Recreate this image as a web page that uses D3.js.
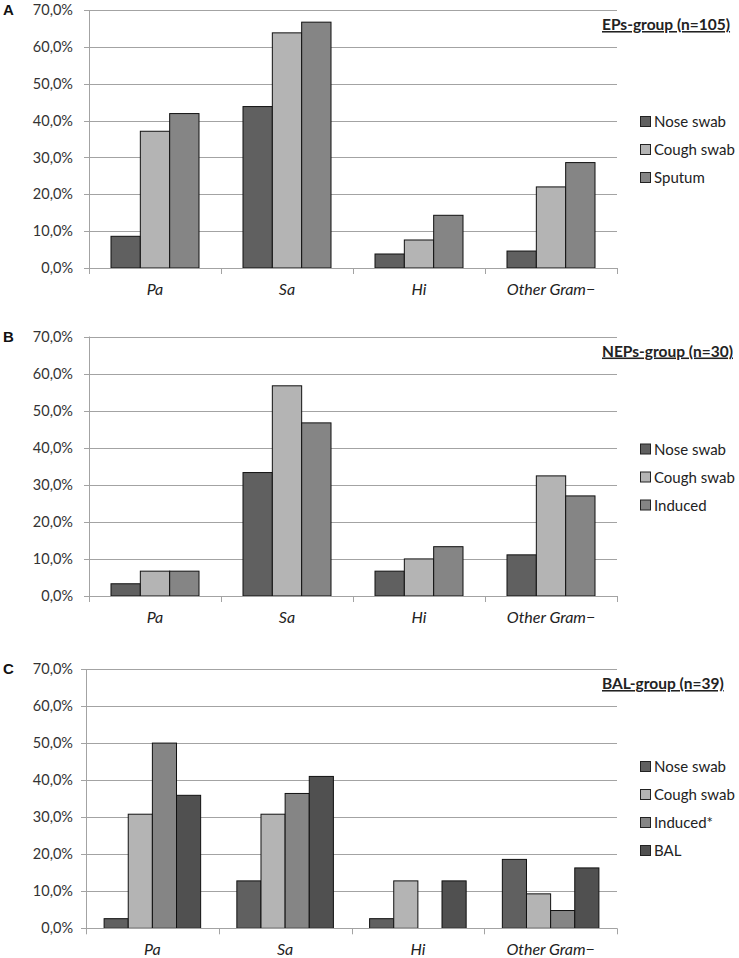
<!DOCTYPE html>
<html><head><meta charset="utf-8">
<script src="https://cdn.jsdelivr.net/npm/d3@7"></script>
<style>body{margin:0;background:#fff;} svg{display:block;}</style>
</head><body>
<svg id="chart" width="739" height="958"></svg>
<script>
const categories = ["Pa", "Sa", "Hi", "Other Gram\u2212"];
const yTicks = [0, 10, 20, 30, 40, 50, 60, 70];

// Panel A: EPs-group (n=105)
const seriesA = ["Nose swab", "Cough swab", "Sputum"];
const noseA = [8.6, 43.8, 3.8, 4.6];
const coughA = [37.1, 63.8, 7.6, 22.0];
const sputumA = [41.9, 66.7, 14.3, 28.6];

// Panel B: NEPs-group (n=30)
const seriesB = ["Nose swab", "Cough swab", "Induced"];
const noseB = [3.3, 33.3, 6.7, 11.1];
const coughB = [6.7, 56.7, 10.0, 32.4];
const inducedB = [6.7, 46.7, 13.3, 27.0];

// Panel C: BAL-group (n=39)
const seriesC = ["Nose swab", "Cough swab", "Induced*", "BAL"];
const noseC = [2.6, 12.8, 2.6, 18.6];
const coughC = [30.8, 30.8, 12.8, 9.3];
const inducedC = [50.0, 36.4, 0, 4.8];
const balC = [35.9, 41.0, 12.8, 16.3];

const colorMap = {"Nose swab":"#606060","Cough swab":"#b4b4b4","Sputum":"#858585","Induced":"#858585","Induced*":"#858585","BAL":"#505050"};

const panels = [
  {label:"A", title:"EPs-group (n=105)", series:seriesA, values:[noseA,coughA,sputumA],
   top:10, bottom:268, left:89, right:617, legendY:122},
  {label:"B", title:"NEPs-group (n=30)", series:seriesB, values:[noseB,coughB,inducedB],
   top:336.5, bottom:596, left:89, right:617, legendY:449.5},
  {label:"C", title:"BAL-group (n=39)", series:seriesC, values:[noseC,coughC,inducedC,balC],
   top:669, bottom:928.3, left:86, right:617, legendY:767}
];

const svg = d3.select("#chart");
const font = "Lato, 'Open Sans', sans-serif";

panels.forEach(p => {
  const g = svg.append("g");
  const x = d3.scaleBand().domain(categories).range([p.left, p.right]).paddingInner(0).paddingOuter(0);
  const y = d3.scaleLinear().domain([0, 70]).range([p.bottom, p.top]);
  const bw = x.bandwidth();
  // Excel-style gap width 150%
  const n = p.series.length;
  const barW = bw / (n + 1.5);
  const off = barW * 0.75;

  g.selectAll("line.grid").data(yTicks.filter(t => t > 0)).join("line")
    .attr("x1", p.left - 5).attr("x2", p.right)
    .attr("y1", d => Math.round(y(d)) + 0.5).attr("y2", d => Math.round(y(d)) + 0.5)
    .attr("stroke", "#a3a3a3").attr("stroke-width", 1);
  g.append("line").attr("x1", p.left + 0.5).attr("x2", p.left + 0.5)
    .attr("y1", y(70)).attr("y2", y(0)).attr("stroke", "#a3a3a3");
  g.append("line").attr("x1", p.left - 5).attr("x2", p.left)
    .attr("y1", Math.round(y(0)) + 0.5).attr("y2", Math.round(y(0)) + 0.5).attr("stroke", "#a3a3a3");
  g.selectAll("text.ytick").data(yTicks).join("text")
    .attr("x", 73).attr("y", d => y(d)).attr("dy", "0.35em")
    .attr("text-anchor", "end").attr("font-family", font).attr("font-size", 14.5).attr("fill", "#333")
    .text(d => d3.format(".1f")(d).replace(".", ",") + "%");

  p.series.forEach((s, si) => {
    g.selectAll("rect.s" + si).data(categories).join("rect")
      .attr("x", c => x(c) + off + si * barW)
      .attr("y", (c, i) => y(p.values[si][i]))
      .attr("width", barW)
      .attr("height", (c, i) => y(0) - y(p.values[si][i]))
      .attr("fill", colorMap[s]).attr("stroke", "#111").attr("stroke-width", 1)
      .style("display", (c, i) => p.values[si][i] > 0 ? null : "none");
  });

  g.append("line").attr("x1", p.left).attr("x2", p.right)
    .attr("y1", Math.round(y(0)) + 0.5).attr("y2", Math.round(y(0)) + 0.5).attr("stroke", "#a3a3a3");
  const bounds = categories.map(c => x(c)).concat([p.right]);
  g.selectAll("line.xt").data(bounds).join("line")
    .attr("x1", d => Math.round(d) + 0.5).attr("x2", d => Math.round(d) + 0.5)
    .attr("y1", y(0)).attr("y2", y(0) + 6).attr("stroke", "#a3a3a3");
  g.selectAll("text.cat").data(categories).join("text")
    .attr("x", c => x(c) + bw / 2).attr("y", y(0) + 27)
    .attr("text-anchor", "middle").attr("font-family", font).attr("font-style", "italic")
    .attr("font-size", 16).attr("fill", "#222").text(c => c);

  g.append("text").attr("x", 3).attr("y", p.top).attr("dy", "0.36em")
    .attr("font-family", "'Liberation Sans', Arial, sans-serif").attr("font-weight", "bold")
    .attr("font-size", 15).attr("fill", "#111").text(p.label);

  g.append("text").attr("x", 602).attr("y", p.top + 20)
    .attr("font-family", font).attr("font-weight", "bold").attr("font-size", 15.5)
    .attr("fill", "#222").style("text-decoration", "underline").text(p.title);

  const lg = g.selectAll("g.leg").data(p.series).join("g")
    .attr("transform", (d, i) => `translate(640, ${p.legendY + i * 28})`);
  lg.append("rect").attr("x", 0.5).attr("y", -5.5).attr("width", 10).attr("height", 10)
    .attr("fill", d => colorMap[d]).attr("stroke", "#222").attr("stroke-width", 1);
  lg.append("text").attr("x", 14).attr("y", 0).attr("dy", "0.35em")
    .attr("font-family", font).attr("font-size", 15).attr("fill", "#222").text(d => d);
});
</script>
</body></html>
